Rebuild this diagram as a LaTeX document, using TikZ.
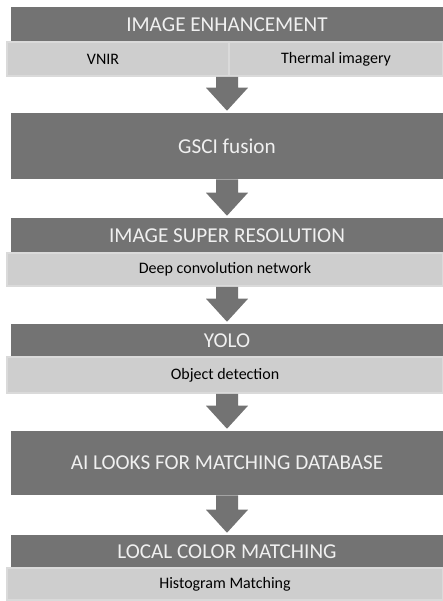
\documentclass[tikz,border=0pt]{standalone}
\usepackage{fontspec}
\setmainfont{Carlito}
\usetikzlibrary{calc}

\definecolor{stagegray}{RGB}{115,115,115}
\definecolor{subgray}{RGB}{206,206,206}
\definecolor{subedge}{RGB}{218,218,218}

\tikzset{
    stage/.style={rectangle, fill=stagegray, text=white!94!black, inner sep=0pt,
        minimum width=324pt, font=\fontsize{15.9}{18}\selectfont},
    substage/.style={rectangle, fill=subgray, draw=subedge, line width=1.2pt, inner sep=0pt,
        font=\fontsize{12}{14}\selectfont},
    flowarrow/.style={fill=stagegray}
}

\begin{document}
\begin{tikzpicture}[x=0.75pt,y=-0.75pt]
        \useasboundingbox (0,0) rectangle (443,601);

        \node[stage, minimum height=26.25pt] (enh) at (227,24.5) {IMAGE ENHANCEMENT};
        \node[substage, minimum width=166.5pt, minimum height=25.5pt] (vnirbox) at (118,59) {};
        \node[substage, minimum width=160.5pt, minimum height=25.5pt] (thermal) at (336,59) {Thermal imagery};
        \node[font=\fontsize{12}{14}\selectfont] (vnir) at (103,59) {VNIR};

        \node[stage, minimum height=49.5pt] (fusion) at (227,146) {GSCI fusion};

        \node[stage, minimum height=26.25pt] (superres) at (227,235.5) {IMAGE SUPER RESOLUTION};
        \node[substage, minimum width=327pt, minimum height=24.75pt] (deepnet) at (225,269.5) {Deep convolution network};

        \node[stage, minimum height=24.75pt] (yolo) at (227,340.5) {YOLO};
        \node[substage, minimum width=327pt, minimum height=27pt] (objdet) at (225,375) {Object detection};

        \node[stage, minimum height=48pt] (aimatch) at (227,463) {AI LOOKS FOR MATCHING DATABASE};

        \node[stage, minimum height=24.75pt] (colormatch) at (227,551.5) {LOCAL COLOR MATCHING};
        \node[substage, minimum width=327pt, minimum height=24pt] (histmatch) at (225,584) {Histogram Matching};

        % block arrows between the stages
        \foreach \a/\b in {vnirbox/fusion, fusion/superres, deepnet/yolo, objdet/aimatch, aimatch/colormatch}
        {
            \fill[flowarrow] ($(\b.north |- \a.south)+(-11,0)$) -- ++(22,0)
                -- ($(\b.north)+(11,-25)$) -- ($(\b.north)+(21,-25)$) -- ($(\b.north)+(0,-2)$)
                -- ($(\b.north)+(-21,-25)$) -- ($(\b.north)+(-11,-25)$) -- cycle;
        }
    \end{tikzpicture}
\end{document}
